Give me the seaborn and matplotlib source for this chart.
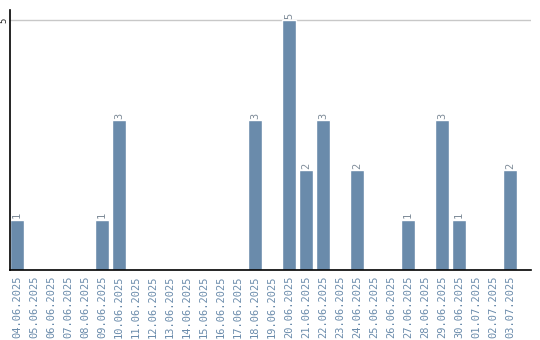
import matplotlib
matplotlib.use("Agg")
import matplotlib.pyplot as plt
import seaborn as sns
import pandas as pd

dates = ["04.06.2025","05.06.2025","06.06.2025","07.06.2025","08.06.2025","09.06.2025",
         "10.06.2025","11.06.2025","12.06.2025","13.06.2025","14.06.2025","15.06.2025",
         "16.06.2025","17.06.2025","18.06.2025","19.06.2025","20.06.2025","21.06.2025",
         "22.06.2025","23.06.2025","24.06.2025","25.06.2025","26.06.2025","27.06.2025",
         "28.06.2025","29.06.2025","30.06.2025","01.07.2025","02.07.2025","03.07.2025"]
counts = [1,0,0,0,0,1,3,0,0,0,0,0,0,0,3,0,5,2,3,0,2,0,0,1,0,3,1,0,0,2]
y_ticks = [5]

df = pd.DataFrame({"date": dates, "count": counts})

sns.set_style("white")
plt.rcParams['font.family'] = ['DejaVu Sans Mono', 'DejaVu Sans']

fig = plt.figure(figsize=(5.4, 3.4), dpi=100)
ax = fig.add_axes([10/540, 70/340, 521/540, 260/340])

bar_color = "#6a8bab"
label_color = "#6a8bab"
sns.barplot(data=df, x="date", y="count", color=bar_color, width=0.82,
            saturation=1, ax=ax)

for i, v in enumerate(counts):
    if v > 0:
        ax.text(i, v + 0.03, str(v), rotation=90, ha="center", va="bottom",
                fontsize=7.5, color="#7f8c99")

ax.set_xlim(-0.41, 30.24)
ax.set_ylim(0, 5.2)
ax.set_yticks(y_ticks)
ax.set_yticklabels([str(t) for t in y_ticks], rotation=90, va="center",
                   fontsize=6.5, color="#222222")
ax.yaxis.grid(True, color="#c8c8c8", linewidth=1)
ax.set_axisbelow(True)
ax.tick_params(axis="y", length=0, pad=1)
ax.tick_params(axis="x", length=0, pad=4)
ax.set_xticks(range(len(dates)))
ax.set_xticklabels(dates, rotation=90, fontsize=7.5, color=label_color)
ax.set_xlabel("")
ax.set_ylabel("")
for s in ["top", "right"]:
    ax.spines[s].set_visible(False)
for s in ["left", "bottom"]:
    ax.spines[s].set_color("black")
    ax.spines[s].set_linewidth(1.2)

fig.savefig("out.png", dpi=100)
